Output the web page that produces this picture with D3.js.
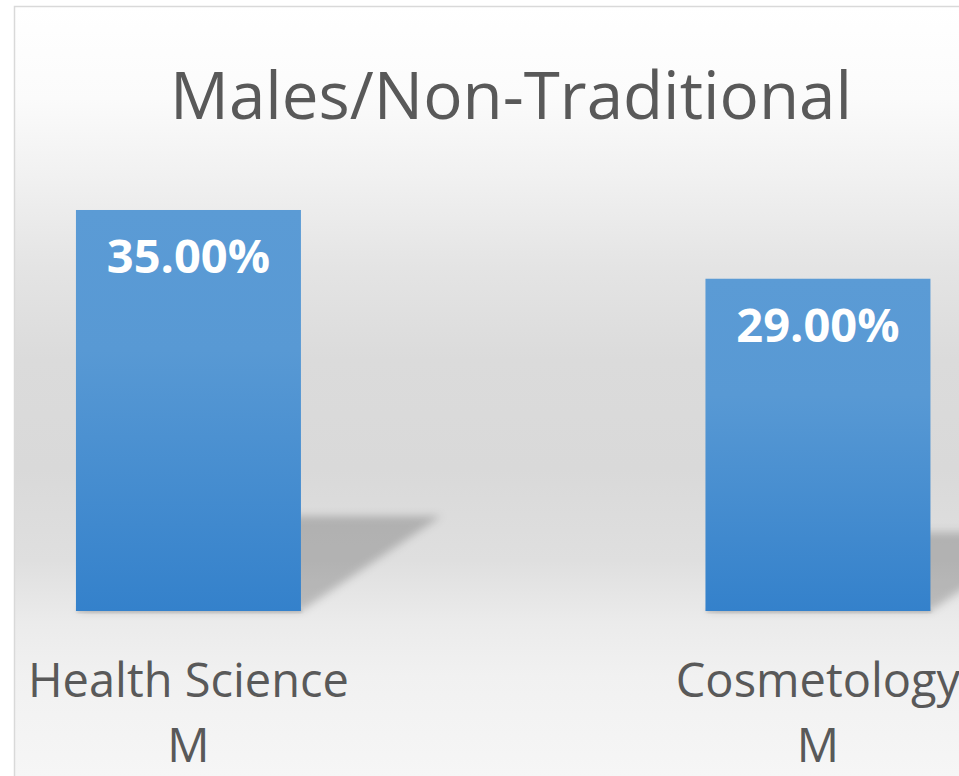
<!DOCTYPE html>
<html>
<head>
<meta charset="utf-8">
<script src="https://cdn.jsdelivr.net/npm/d3@7/dist/d3.min.js"></script>
<style>
  html, body { margin: 0; padding: 0; background: #ffffff; overflow: hidden; }
  svg { display: block; }
</style>
</head>
<body>
<svg id="chart" width="959" height="776"></svg>
<script>
// ---- data ----
const chartTitle = "Males/Non-Traditional";
const categories = ["Health Science\nM", "Cosmetology\nM"];
const values = [0.35, 0.29];
const valueFormat = d3.format(".2%");

// ---- layout ----
const W = 959, H = 776;
const svg = d3.select("#chart");
const defs = svg.append("defs");

const FONT = "'Open Sans', 'Liberation Sans', sans-serif";

// background gradient (vertical)
const bg = defs.append("linearGradient").attr("id", "bgGrad")
  .attr("gradientUnits", "userSpaceOnUse")
  .attr("x1", 0).attr("y1", 6).attr("x2", 0).attr("y2", H);
[[0, "#ffffff"], [0.12, "#fbfbfb"], [0.22, "#f1f1f1"], [0.34, "#e4e4e4"], [0.46, "#dbdbdb"],
 [0.6, "#d9d9d9"], [0.72, "#dfdfdf"], [0.8, "#ebebeb"], [0.87, "#f1f1f1"], [1, "#f6f6f6"]]
  .forEach(([o, c]) => bg.append("stop").attr("offset", o).attr("stop-color", c));

const barGrad = defs.append("linearGradient").attr("id", "barGrad")
  .attr("x1", 0).attr("y1", 0).attr("x2", 0).attr("y2", 1);
barGrad.append("stop").attr("offset", 0).attr("stop-color", "#5b9bd5");
barGrad.append("stop").attr("offset", 0.35).attr("stop-color", "#5899d4");
barGrad.append("stop").attr("offset", 1).attr("stop-color", "#3481cb");

const blur = defs.append("filter").attr("id", "shadowBlur")
  .attr("x", "-20%").attr("y", "-20%").attr("width", "140%").attr("height", "140%");
blur.append("feGaussianBlur").attr("stdDeviation", 4);

const blurSmall = defs.append("filter").attr("id", "edgeBlur")
  .attr("x", "-10%").attr("y", "-10%").attr("width", "120%").attr("height", "120%");
blurSmall.append("feGaussianBlur").attr("stdDeviation", 1.5);

// chart area frame (extends beyond right/bottom of viewport)
svg.append("rect").attr("x", 14.5).attr("y", 6.5).attr("width", W + 50).attr("height", H + 50)
  .attr("fill", "url(#bgGrad)").attr("stroke", "#d9d9d9").attr("stroke-width", 1.5);

// scales
const x = d3.scaleBand().domain(categories)
  .range([13, 993.4]).paddingInner(0.6426).paddingOuter(0.1);
const y = d3.scaleLinear().domain([0, 0.40]).range([611, 152.7]);

const data = categories.map((c, i) => ({ cat: c, value: values[i] }));

// shadows (perspective, cast to lower right)
svg.append("g").selectAll("path").data(data).join("path")
  .attr("d", d => {
    const x0 = x(d.cat), x1 = x(d.cat) + x.bandwidth();
    const b = y(0), h = y(0) - y(d.value);
    const dx = 0.35 * h, dy = 0.237 * h;
    return `M${x0},${b}L${x1},${b}L${x1 + dx},${b - dy}L${x0 + dx},${b - dy}Z`;
  })
  .attr("fill", "#000").attr("fill-opacity", 0.2)
  .attr("filter", "url(#shadowBlur)");

// soft bottom edge shadow beneath bar
svg.append("g").selectAll("rect").data(data).join("rect")
  .attr("x", d => x(d.cat) + 1)
  .attr("y", d => y(0) - 2)
  .attr("width", x.bandwidth())
  .attr("height", 4)
  .attr("fill", "#000").attr("fill-opacity", 0.12)
  .attr("filter", "url(#edgeBlur)");

// bars
svg.append("g").selectAll("rect").data(data).join("rect")
  .attr("x", d => x(d.cat))
  .attr("y", d => y(d.value))
  .attr("width", x.bandwidth())
  .attr("height", d => y(0) - y(d.value))
  .attr("fill", "url(#barGrad)");

// data labels
svg.append("g").selectAll("text").data(data).join("text")
  .attr("x", d => x(d.cat) + x.bandwidth() / 2)
  .attr("y", d => y(d.value) + 63)
  .attr("text-anchor", "middle")
  .attr("font-family", FONT).attr("font-weight", 700).attr("font-size", 47)
  .attr("fill", "#ffffff")
  .text(d => valueFormat(d.value));

// title
svg.append("text")
  .attr("x", 511).attr("y", 119)
  .attr("text-anchor", "middle")
  .attr("font-family", FONT).attr("font-size", 65.5)
  .attr("fill", "#595959")
  .text(chartTitle);

// category axis labels (multi-line)
const xAxis = d3.axisBottom(x).tickSize(0).tickFormat("");
const axisG = svg.append("g").attr("transform", `translate(0,${y(0)})`).call(xAxis);
axisG.select(".domain").remove();
axisG.selectAll(".tick").each(function (d) {
  const lines = d.split("\n");
  const t = d3.select(this).append("text")
    .attr("text-anchor", "middle")
    .attr("font-family", FONT).attr("font-size", 47)
    .attr("fill", "#595959");
  lines.forEach((ln, i) => {
    t.append("tspan").attr("x", 0).attr("y", 86 + i * 65).text(ln);
  });
});
</script>
</body>
</html>
